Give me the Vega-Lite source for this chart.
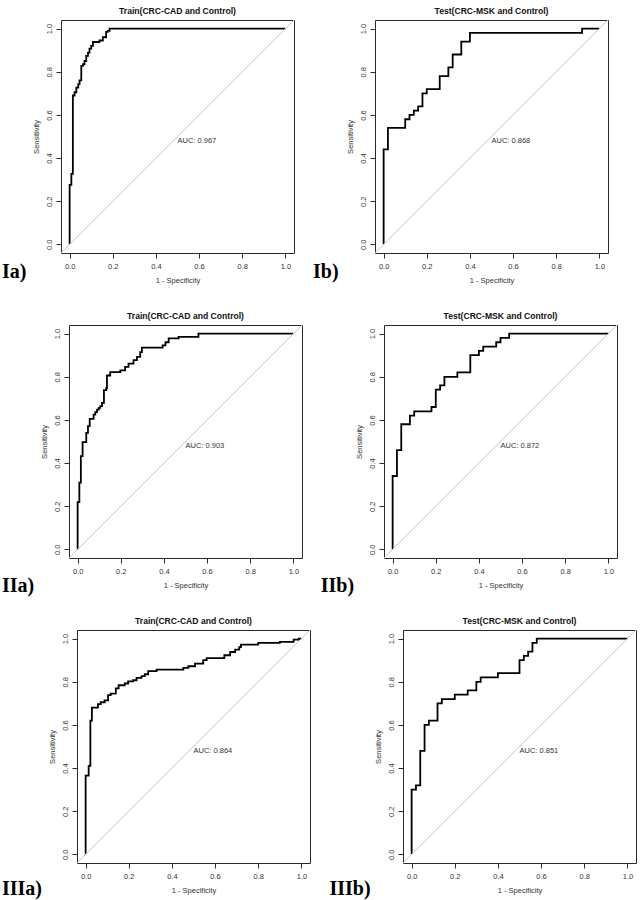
{
  "$schema": "https://vega.github.io/schema/vega-lite/v6.json",
  "background": "white",
  "padding": {"left": 0, "top": 6, "right": 0, "bottom": 0},
  "config": {
    "view": {"stroke": "#2a2a2a", "strokeWidth": 1},
    "axis": {
      "domain": false, "grid": false, "tickColor": "#2a2a2a", "tickSize": 5,
      "labelFont": "Liberation Sans", "labelFontSize": 7.5, "labelColor": "#333",
      "titleFont": "Liberation Sans", "titleFontSize": 7.5, "titleFontWeight": "normal", "titleColor": "#333",
      "labelFlush": false, "labelOverlap": false
    },
    "axisY": {"labelAngle": -90, "labelPadding": 3, "titlePadding": 5},
    "axisX": {"labelPadding": 4, "titlePadding": 6.5},
    "title": {"font": "Liberation Sans", "fontSize": 8.6, "fontWeight": "bold", "color": "#111", "frame": "group", "offset": 4},
    "text": {"font": "Liberation Sans"}
  },
  "data": {"values": [
    {"panel": "Ia", "fpr": 0, "tpr": 0}, {"panel": "Ia", "fpr": 0, "tpr": 0.276}, {"panel": "Ia", "fpr": 0.008, "tpr": 0.276}, {"panel": "Ia", "fpr": 0.008, "tpr": 0.327}, {"panel": "Ia", "fpr": 0.015, "tpr": 0.327}, {"panel": "Ia", "fpr": 0.015, "tpr": 0.69}, {"panel": "Ia", "fpr": 0.023, "tpr": 0.69}, {"panel": "Ia", "fpr": 0.023, "tpr": 0.705}, {"panel": "Ia", "fpr": 0.031, "tpr": 0.705}, {"panel": "Ia", "fpr": 0.031, "tpr": 0.727}, {"panel": "Ia", "fpr": 0.04, "tpr": 0.727}, {"panel": "Ia", "fpr": 0.04, "tpr": 0.743}, {"panel": "Ia", "fpr": 0.046, "tpr": 0.743}, {"panel": "Ia", "fpr": 0.046, "tpr": 0.76}, {"panel": "Ia", "fpr": 0.054, "tpr": 0.76}, {"panel": "Ia", "fpr": 0.054, "tpr": 0.827}, {"panel": "Ia", "fpr": 0.062, "tpr": 0.827}, {"panel": "Ia", "fpr": 0.062, "tpr": 0.835}, {"panel": "Ia", "fpr": 0.069, "tpr": 0.835}, {"panel": "Ia", "fpr": 0.069, "tpr": 0.85}, {"panel": "Ia", "fpr": 0.077, "tpr": 0.85}, {"panel": "Ia", "fpr": 0.077, "tpr": 0.874}, {"panel": "Ia", "fpr": 0.085, "tpr": 0.874}, {"panel": "Ia", "fpr": 0.085, "tpr": 0.889}, {"panel": "Ia", "fpr": 0.092, "tpr": 0.889}, {"panel": "Ia", "fpr": 0.092, "tpr": 0.907}, {"panel": "Ia", "fpr": 0.1, "tpr": 0.907}, {"panel": "Ia", "fpr": 0.1, "tpr": 0.92}, {"panel": "Ia", "fpr": 0.108, "tpr": 0.92}, {"panel": "Ia", "fpr": 0.108, "tpr": 0.938}, {"panel": "Ia", "fpr": 0.138, "tpr": 0.938}, {"panel": "Ia", "fpr": 0.138, "tpr": 0.945}, {"panel": "Ia", "fpr": 0.154, "tpr": 0.945}, {"panel": "Ia", "fpr": 0.154, "tpr": 0.96}, {"panel": "Ia", "fpr": 0.169, "tpr": 0.96}, {"panel": "Ia", "fpr": 0.169, "tpr": 0.985}, {"panel": "Ia", "fpr": 0.177, "tpr": 0.985}, {"panel": "Ia", "fpr": 0.177, "tpr": 0.99}, {"panel": "Ia", "fpr": 0.185, "tpr": 0.99}, {"panel": "Ia", "fpr": 0.185, "tpr": 1}, {"panel": "Ia", "fpr": 1, "tpr": 1},

    {"panel": "Ib", "fpr": 0, "tpr": 0}, {"panel": "Ib", "fpr": 0, "tpr": 0.44}, {"panel": "Ib", "fpr": 0.02, "tpr": 0.44}, {"panel": "Ib", "fpr": 0.02, "tpr": 0.54}, {"panel": "Ib", "fpr": 0.1, "tpr": 0.54}, {"panel": "Ib", "fpr": 0.1, "tpr": 0.58}, {"panel": "Ib", "fpr": 0.12, "tpr": 0.58}, {"panel": "Ib", "fpr": 0.12, "tpr": 0.6}, {"panel": "Ib", "fpr": 0.14, "tpr": 0.6}, {"panel": "Ib", "fpr": 0.14, "tpr": 0.62}, {"panel": "Ib", "fpr": 0.16, "tpr": 0.62}, {"panel": "Ib", "fpr": 0.16, "tpr": 0.64}, {"panel": "Ib", "fpr": 0.18, "tpr": 0.64}, {"panel": "Ib", "fpr": 0.18, "tpr": 0.7}, {"panel": "Ib", "fpr": 0.2, "tpr": 0.7}, {"panel": "Ib", "fpr": 0.2, "tpr": 0.72}, {"panel": "Ib", "fpr": 0.26, "tpr": 0.72}, {"panel": "Ib", "fpr": 0.26, "tpr": 0.78}, {"panel": "Ib", "fpr": 0.3, "tpr": 0.78}, {"panel": "Ib", "fpr": 0.3, "tpr": 0.82}, {"panel": "Ib", "fpr": 0.32, "tpr": 0.82}, {"panel": "Ib", "fpr": 0.32, "tpr": 0.88}, {"panel": "Ib", "fpr": 0.36, "tpr": 0.88}, {"panel": "Ib", "fpr": 0.36, "tpr": 0.94}, {"panel": "Ib", "fpr": 0.4, "tpr": 0.94}, {"panel": "Ib", "fpr": 0.4, "tpr": 0.98}, {"panel": "Ib", "fpr": 0.92, "tpr": 0.98}, {"panel": "Ib", "fpr": 0.92, "tpr": 1}, {"panel": "Ib", "fpr": 1, "tpr": 1},

    {"panel": "IIa", "fpr": 0, "tpr": 0}, {"panel": "IIa", "fpr": 0, "tpr": 0.219}, {"panel": "IIa", "fpr": 0.008, "tpr": 0.219}, {"panel": "IIa", "fpr": 0.008, "tpr": 0.309}, {"panel": "IIa", "fpr": 0.015, "tpr": 0.309}, {"panel": "IIa", "fpr": 0.015, "tpr": 0.432}, {"panel": "IIa", "fpr": 0.023, "tpr": 0.432}, {"panel": "IIa", "fpr": 0.023, "tpr": 0.497}, {"panel": "IIa", "fpr": 0.04, "tpr": 0.497}, {"panel": "IIa", "fpr": 0.04, "tpr": 0.54}, {"panel": "IIa", "fpr": 0.048, "tpr": 0.54}, {"panel": "IIa", "fpr": 0.048, "tpr": 0.571}, {"panel": "IIa", "fpr": 0.056, "tpr": 0.571}, {"panel": "IIa", "fpr": 0.056, "tpr": 0.605}, {"panel": "IIa", "fpr": 0.074, "tpr": 0.605}, {"panel": "IIa", "fpr": 0.074, "tpr": 0.625}, {"panel": "IIa", "fpr": 0.082, "tpr": 0.625}, {"panel": "IIa", "fpr": 0.082, "tpr": 0.636}, {"panel": "IIa", "fpr": 0.09, "tpr": 0.636}, {"panel": "IIa", "fpr": 0.09, "tpr": 0.648}, {"panel": "IIa", "fpr": 0.098, "tpr": 0.648}, {"panel": "IIa", "fpr": 0.098, "tpr": 0.656}, {"panel": "IIa", "fpr": 0.105, "tpr": 0.656}, {"panel": "IIa", "fpr": 0.105, "tpr": 0.664}, {"panel": "IIa", "fpr": 0.113, "tpr": 0.664}, {"panel": "IIa", "fpr": 0.113, "tpr": 0.679}, {"panel": "IIa", "fpr": 0.122, "tpr": 0.679}, {"panel": "IIa", "fpr": 0.122, "tpr": 0.738}, {"panel": "IIa", "fpr": 0.133, "tpr": 0.738}, {"panel": "IIa", "fpr": 0.133, "tpr": 0.748}, {"panel": "IIa", "fpr": 0.136, "tpr": 0.748}, {"panel": "IIa", "fpr": 0.136, "tpr": 0.806}, {"panel": "IIa", "fpr": 0.151, "tpr": 0.806}, {"panel": "IIa", "fpr": 0.151, "tpr": 0.822}, {"panel": "IIa", "fpr": 0.198, "tpr": 0.822}, {"panel": "IIa", "fpr": 0.198, "tpr": 0.83}, {"panel": "IIa", "fpr": 0.22, "tpr": 0.83}, {"panel": "IIa", "fpr": 0.22, "tpr": 0.846}, {"panel": "IIa", "fpr": 0.236, "tpr": 0.846}, {"panel": "IIa", "fpr": 0.236, "tpr": 0.861}, {"panel": "IIa", "fpr": 0.259, "tpr": 0.861}, {"panel": "IIa", "fpr": 0.259, "tpr": 0.877}, {"panel": "IIa", "fpr": 0.275, "tpr": 0.877}, {"panel": "IIa", "fpr": 0.275, "tpr": 0.892}, {"panel": "IIa", "fpr": 0.29, "tpr": 0.892}, {"panel": "IIa", "fpr": 0.29, "tpr": 0.914}, {"panel": "IIa", "fpr": 0.298, "tpr": 0.914}, {"panel": "IIa", "fpr": 0.298, "tpr": 0.935}, {"panel": "IIa", "fpr": 0.394, "tpr": 0.935}, {"panel": "IIa", "fpr": 0.394, "tpr": 0.946}, {"panel": "IIa", "fpr": 0.407, "tpr": 0.946}, {"panel": "IIa", "fpr": 0.407, "tpr": 0.96}, {"panel": "IIa", "fpr": 0.422, "tpr": 0.96}, {"panel": "IIa", "fpr": 0.422, "tpr": 0.978}, {"panel": "IIa", "fpr": 0.468, "tpr": 0.978}, {"panel": "IIa", "fpr": 0.468, "tpr": 0.985}, {"panel": "IIa", "fpr": 0.56, "tpr": 0.985}, {"panel": "IIa", "fpr": 0.56, "tpr": 1}, {"panel": "IIa", "fpr": 1, "tpr": 1},

    {"panel": "IIb", "fpr": 0, "tpr": 0}, {"panel": "IIb", "fpr": 0, "tpr": 0.34}, {"panel": "IIb", "fpr": 0.02, "tpr": 0.34}, {"panel": "IIb", "fpr": 0.02, "tpr": 0.46}, {"panel": "IIb", "fpr": 0.04, "tpr": 0.46}, {"panel": "IIb", "fpr": 0.04, "tpr": 0.58}, {"panel": "IIb", "fpr": 0.08, "tpr": 0.58}, {"panel": "IIb", "fpr": 0.08, "tpr": 0.62}, {"panel": "IIb", "fpr": 0.1, "tpr": 0.62}, {"panel": "IIb", "fpr": 0.1, "tpr": 0.64}, {"panel": "IIb", "fpr": 0.18, "tpr": 0.64}, {"panel": "IIb", "fpr": 0.18, "tpr": 0.66}, {"panel": "IIb", "fpr": 0.2, "tpr": 0.66}, {"panel": "IIb", "fpr": 0.2, "tpr": 0.74}, {"panel": "IIb", "fpr": 0.22, "tpr": 0.74}, {"panel": "IIb", "fpr": 0.22, "tpr": 0.76}, {"panel": "IIb", "fpr": 0.24, "tpr": 0.76}, {"panel": "IIb", "fpr": 0.24, "tpr": 0.8}, {"panel": "IIb", "fpr": 0.3, "tpr": 0.8}, {"panel": "IIb", "fpr": 0.3, "tpr": 0.82}, {"panel": "IIb", "fpr": 0.36, "tpr": 0.82}, {"panel": "IIb", "fpr": 0.36, "tpr": 0.9}, {"panel": "IIb", "fpr": 0.4, "tpr": 0.9}, {"panel": "IIb", "fpr": 0.4, "tpr": 0.92}, {"panel": "IIb", "fpr": 0.42, "tpr": 0.92}, {"panel": "IIb", "fpr": 0.42, "tpr": 0.94}, {"panel": "IIb", "fpr": 0.48, "tpr": 0.94}, {"panel": "IIb", "fpr": 0.48, "tpr": 0.96}, {"panel": "IIb", "fpr": 0.5, "tpr": 0.96}, {"panel": "IIb", "fpr": 0.5, "tpr": 0.98}, {"panel": "IIb", "fpr": 0.54, "tpr": 0.98}, {"panel": "IIb", "fpr": 0.54, "tpr": 1}, {"panel": "IIb", "fpr": 1, "tpr": 1},

    {"panel": "IIIa", "fpr": 0, "tpr": 0}, {"panel": "IIIa", "fpr": 0, "tpr": 0.365}, {"panel": "IIIa", "fpr": 0.014, "tpr": 0.365}, {"panel": "IIIa", "fpr": 0.014, "tpr": 0.41}, {"panel": "IIIa", "fpr": 0.022, "tpr": 0.41}, {"panel": "IIIa", "fpr": 0.022, "tpr": 0.62}, {"panel": "IIIa", "fpr": 0.029, "tpr": 0.62}, {"panel": "IIIa", "fpr": 0.029, "tpr": 0.68}, {"panel": "IIIa", "fpr": 0.057, "tpr": 0.68}, {"panel": "IIIa", "fpr": 0.057, "tpr": 0.696}, {"panel": "IIIa", "fpr": 0.07, "tpr": 0.696}, {"panel": "IIIa", "fpr": 0.07, "tpr": 0.705}, {"panel": "IIIa", "fpr": 0.088, "tpr": 0.705}, {"panel": "IIIa", "fpr": 0.088, "tpr": 0.714}, {"panel": "IIIa", "fpr": 0.104, "tpr": 0.714}, {"panel": "IIIa", "fpr": 0.104, "tpr": 0.738}, {"panel": "IIIa", "fpr": 0.116, "tpr": 0.738}, {"panel": "IIIa", "fpr": 0.116, "tpr": 0.745}, {"panel": "IIIa", "fpr": 0.14, "tpr": 0.745}, {"panel": "IIIa", "fpr": 0.14, "tpr": 0.769}, {"panel": "IIIa", "fpr": 0.153, "tpr": 0.769}, {"panel": "IIIa", "fpr": 0.153, "tpr": 0.784}, {"panel": "IIIa", "fpr": 0.181, "tpr": 0.784}, {"panel": "IIIa", "fpr": 0.181, "tpr": 0.792}, {"panel": "IIIa", "fpr": 0.197, "tpr": 0.792}, {"panel": "IIIa", "fpr": 0.197, "tpr": 0.802}, {"panel": "IIIa", "fpr": 0.22, "tpr": 0.802}, {"panel": "IIIa", "fpr": 0.22, "tpr": 0.807}, {"panel": "IIIa", "fpr": 0.236, "tpr": 0.807}, {"panel": "IIIa", "fpr": 0.236, "tpr": 0.818}, {"panel": "IIIa", "fpr": 0.259, "tpr": 0.818}, {"panel": "IIIa", "fpr": 0.259, "tpr": 0.826}, {"panel": "IIIa", "fpr": 0.274, "tpr": 0.826}, {"panel": "IIIa", "fpr": 0.274, "tpr": 0.835}, {"panel": "IIIa", "fpr": 0.29, "tpr": 0.835}, {"panel": "IIIa", "fpr": 0.29, "tpr": 0.849}, {"panel": "IIIa", "fpr": 0.329, "tpr": 0.849}, {"panel": "IIIa", "fpr": 0.329, "tpr": 0.856}, {"panel": "IIIa", "fpr": 0.453, "tpr": 0.856}, {"panel": "IIIa", "fpr": 0.453, "tpr": 0.864}, {"panel": "IIIa", "fpr": 0.476, "tpr": 0.864}, {"panel": "IIIa", "fpr": 0.476, "tpr": 0.872}, {"panel": "IIIa", "fpr": 0.507, "tpr": 0.872}, {"panel": "IIIa", "fpr": 0.507, "tpr": 0.884}, {"panel": "IIIa", "fpr": 0.545, "tpr": 0.884}, {"panel": "IIIa", "fpr": 0.545, "tpr": 0.9}, {"panel": "IIIa", "fpr": 0.561, "tpr": 0.9}, {"panel": "IIIa", "fpr": 0.561, "tpr": 0.91}, {"panel": "IIIa", "fpr": 0.643, "tpr": 0.91}, {"panel": "IIIa", "fpr": 0.643, "tpr": 0.923}, {"panel": "IIIa", "fpr": 0.67, "tpr": 0.923}, {"panel": "IIIa", "fpr": 0.67, "tpr": 0.938}, {"panel": "IIIa", "fpr": 0.693, "tpr": 0.938}, {"panel": "IIIa", "fpr": 0.693, "tpr": 0.949}, {"panel": "IIIa", "fpr": 0.712, "tpr": 0.949}, {"panel": "IIIa", "fpr": 0.712, "tpr": 0.961}, {"panel": "IIIa", "fpr": 0.72, "tpr": 0.961}, {"panel": "IIIa", "fpr": 0.72, "tpr": 0.972}, {"panel": "IIIa", "fpr": 0.8, "tpr": 0.972}, {"panel": "IIIa", "fpr": 0.8, "tpr": 0.98}, {"panel": "IIIa", "fpr": 0.9, "tpr": 0.98}, {"panel": "IIIa", "fpr": 0.9, "tpr": 0.985}, {"panel": "IIIa", "fpr": 0.964, "tpr": 0.985}, {"panel": "IIIa", "fpr": 0.964, "tpr": 0.995}, {"panel": "IIIa", "fpr": 0.988, "tpr": 0.995}, {"panel": "IIIa", "fpr": 0.988, "tpr": 1}, {"panel": "IIIa", "fpr": 1, "tpr": 1},

    {"panel": "IIIb", "fpr": 0, "tpr": 0}, {"panel": "IIIb", "fpr": 0, "tpr": 0.3}, {"panel": "IIIb", "fpr": 0.02, "tpr": 0.3}, {"panel": "IIIb", "fpr": 0.02, "tpr": 0.32}, {"panel": "IIIb", "fpr": 0.04, "tpr": 0.32}, {"panel": "IIIb", "fpr": 0.04, "tpr": 0.48}, {"panel": "IIIb", "fpr": 0.06, "tpr": 0.48}, {"panel": "IIIb", "fpr": 0.06, "tpr": 0.6}, {"panel": "IIIb", "fpr": 0.08, "tpr": 0.6}, {"panel": "IIIb", "fpr": 0.08, "tpr": 0.62}, {"panel": "IIIb", "fpr": 0.12, "tpr": 0.62}, {"panel": "IIIb", "fpr": 0.12, "tpr": 0.7}, {"panel": "IIIb", "fpr": 0.14, "tpr": 0.7}, {"panel": "IIIb", "fpr": 0.14, "tpr": 0.72}, {"panel": "IIIb", "fpr": 0.2, "tpr": 0.72}, {"panel": "IIIb", "fpr": 0.2, "tpr": 0.74}, {"panel": "IIIb", "fpr": 0.26, "tpr": 0.74}, {"panel": "IIIb", "fpr": 0.26, "tpr": 0.76}, {"panel": "IIIb", "fpr": 0.3, "tpr": 0.76}, {"panel": "IIIb", "fpr": 0.3, "tpr": 0.8}, {"panel": "IIIb", "fpr": 0.32, "tpr": 0.8}, {"panel": "IIIb", "fpr": 0.32, "tpr": 0.82}, {"panel": "IIIb", "fpr": 0.4, "tpr": 0.82}, {"panel": "IIIb", "fpr": 0.4, "tpr": 0.84}, {"panel": "IIIb", "fpr": 0.5, "tpr": 0.84}, {"panel": "IIIb", "fpr": 0.5, "tpr": 0.9}, {"panel": "IIIb", "fpr": 0.52, "tpr": 0.9}, {"panel": "IIIb", "fpr": 0.52, "tpr": 0.92}, {"panel": "IIIb", "fpr": 0.54, "tpr": 0.92}, {"panel": "IIIb", "fpr": 0.54, "tpr": 0.94}, {"panel": "IIIb", "fpr": 0.56, "tpr": 0.94}, {"panel": "IIIb", "fpr": 0.56, "tpr": 0.98}, {"panel": "IIIb", "fpr": 0.58, "tpr": 0.98}, {"panel": "IIIb", "fpr": 0.58, "tpr": 1}, {"panel": "IIIb", "fpr": 1, "tpr": 1}
  ]},
  "spacing": 19,
  "vconcat": [
    {"spacing": 27, "vconcat": [
      {"spacing": 0, "hconcat": [
        {"width": 1, "height": 1, "view": {"stroke": null}, "data": {"values": [{}]}, "mark": {"type": "text"}, "encoding": {"text": {"value": ""}}},
        {"spacing": 17, "hconcat": [
          {"width": 233, "height": 233, "title": "Train(CRC-CAD and Control)", "layer": [
            {"transform": [{"filter": "datum.panel === 'Ia'"}], "mark": {"type": "line", "color": "black", "strokeWidth": 1.8},
             "encoding": {"x": {"field": "fpr", "type": "quantitative", "scale": {"domain": [-0.04, 1.04], "nice": false, "zero": false}, "axis": {"title": "1 - Specificity", "values": [0, 0.2, 0.4, 0.6, 0.8, 1], "format": ".1f"}},
                          "y": {"field": "tpr", "type": "quantitative", "scale": {"domain": [-0.04, 1.04], "nice": false, "zero": false}, "axis": {"title": "Sensitivity", "values": [0, 0.2, 0.4, 0.6, 0.8, 1], "format": ".1f"}},
                          "order": {"value": null}}},
            {"data": {"values": [{}]}, "mark": {"type": "rule", "color": "#c8c8c8", "strokeWidth": 1}, "encoding": {"x": {"datum": -0.04}, "y": {"datum": -0.04}, "x2": {"datum": 1.04}, "y2": {"datum": 1.04}}},
            {"data": {"values": [{}]}, "mark": {"type": "text", "align": "left", "baseline": "top", "fontSize": 7.5, "color": "#333"}, "encoding": {"x": {"datum": 0.5}, "y": {"datum": 0.5}, "text": {"value": "AUC: 0.967"}}},
            {"data": {"values": [{}]}, "mark": {"type": "text", "align": "left", "baseline": "alphabetic", "font": "Liberation Serif", "fontWeight": "bold", "fontSize": 20, "color": "black"}, "encoding": {"x": {"datum": -0.3135}, "y": {"datum": -0.156}, "text": {"value": "Ia)"}}}
          ]},
          {"width": 233, "height": 233, "title": "Test(CRC-MSK and Control)", "layer": [
            {"transform": [{"filter": "datum.panel === 'Ib'"}], "mark": {"type": "line", "color": "black", "strokeWidth": 1.8},
             "encoding": {"x": {"field": "fpr", "type": "quantitative", "scale": {"domain": [-0.04, 1.04], "nice": false, "zero": false}, "axis": {"title": "1 - Specificity", "values": [0, 0.2, 0.4, 0.6, 0.8, 1], "format": ".1f"}},
                          "y": {"field": "tpr", "type": "quantitative", "scale": {"domain": [-0.04, 1.04], "nice": false, "zero": false}, "axis": {"title": "Sensitivity", "values": [0, 0.2, 0.4, 0.6, 0.8, 1], "format": ".1f"}},
                          "order": {"value": null}}},
            {"data": {"values": [{}]}, "mark": {"type": "rule", "color": "#c8c8c8", "strokeWidth": 1}, "encoding": {"x": {"datum": -0.04}, "y": {"datum": -0.04}, "x2": {"datum": 1.04}, "y2": {"datum": 1.04}}},
            {"data": {"values": [{}]}, "mark": {"type": "text", "align": "left", "baseline": "top", "fontSize": 7.5, "color": "#333"}, "encoding": {"x": {"datum": 0.5}, "y": {"datum": 0.5}, "text": {"value": "AUC: 0.868"}}},
            {"data": {"values": [{}]}, "mark": {"type": "text", "align": "left", "baseline": "alphabetic", "font": "Liberation Serif", "fontWeight": "bold", "fontSize": 20, "color": "black"}, "encoding": {"x": {"datum": -0.327}, "y": {"datum": -0.156}, "text": {"value": "Ib)"}}}
          ]}
        ]}
      ]},
      {"spacing": 0, "hconcat": [
        {"width": 1, "height": 1, "view": {"stroke": null}, "data": {"values": [{}]}, "mark": {"type": "text"}, "encoding": {"text": {"value": ""}}},
        {"spacing": 17, "hconcat": [
          {"width": 233, "height": 233, "title": "Train(CRC-CAD and Control)", "layer": [
            {"transform": [{"filter": "datum.panel === 'IIa'"}], "mark": {"type": "line", "color": "black", "strokeWidth": 1.8},
             "encoding": {"x": {"field": "fpr", "type": "quantitative", "scale": {"domain": [-0.04, 1.04], "nice": false, "zero": false}, "axis": {"title": "1 - Specificity", "values": [0, 0.2, 0.4, 0.6, 0.8, 1], "format": ".1f"}},
                          "y": {"field": "tpr", "type": "quantitative", "scale": {"domain": [-0.04, 1.04], "nice": false, "zero": false}, "axis": {"title": "Sensitivity", "values": [0, 0.2, 0.4, 0.6, 0.8, 1], "format": ".1f"}},
                          "order": {"value": null}}},
            {"data": {"values": [{}]}, "mark": {"type": "rule", "color": "#c8c8c8", "strokeWidth": 1}, "encoding": {"x": {"datum": -0.04}, "y": {"datum": -0.04}, "x2": {"datum": 1.04}, "y2": {"datum": 1.04}}},
            {"data": {"values": [{}]}, "mark": {"type": "text", "align": "left", "baseline": "top", "fontSize": 7.5, "color": "#333"}, "encoding": {"x": {"datum": 0.5}, "y": {"datum": 0.5}, "text": {"value": "AUC: 0.903"}}},
            {"data": {"values": [{}]}, "mark": {"type": "text", "align": "left", "baseline": "alphabetic", "font": "Liberation Serif", "fontWeight": "bold", "fontSize": 20, "color": "black"}, "encoding": {"x": {"datum": -0.351}, "y": {"datum": -0.198}, "text": {"value": "IIa)"}}}
          ]},
          {"width": 233, "height": 233, "title": "Test(CRC-MSK and Control)", "layer": [
            {"transform": [{"filter": "datum.panel === 'IIb'"}], "mark": {"type": "line", "color": "black", "strokeWidth": 1.8},
             "encoding": {"x": {"field": "fpr", "type": "quantitative", "scale": {"domain": [-0.04, 1.04], "nice": false, "zero": false}, "axis": {"title": "1 - Specificity", "values": [0, 0.2, 0.4, 0.6, 0.8, 1], "format": ".1f"}},
                          "y": {"field": "tpr", "type": "quantitative", "scale": {"domain": [-0.04, 1.04], "nice": false, "zero": false}, "axis": {"title": "Sensitivity", "values": [0, 0.2, 0.4, 0.6, 0.8, 1], "format": ".1f"}},
                          "order": {"value": null}}},
            {"data": {"values": [{}]}, "mark": {"type": "rule", "color": "#c8c8c8", "strokeWidth": 1}, "encoding": {"x": {"datum": -0.04}, "y": {"datum": -0.04}, "x2": {"datum": 1.04}, "y2": {"datum": 1.04}}},
            {"data": {"values": [{}]}, "mark": {"type": "text", "align": "left", "baseline": "top", "fontSize": 7.5, "color": "#333"}, "encoding": {"x": {"datum": 0.5}, "y": {"datum": 0.5}, "text": {"value": "AUC: 0.872"}}},
            {"data": {"values": [{}]}, "mark": {"type": "text", "align": "left", "baseline": "alphabetic", "font": "Liberation Serif", "fontWeight": "bold", "fontSize": 20, "color": "black"}, "encoding": {"x": {"datum": -0.333}, "y": {"datum": -0.198}, "text": {"value": "IIb)"}}}
          ]}
        ]}
      ]}
    ]},
    {"spacing": 0, "hconcat": [
      {"width": 1, "height": 1, "view": {"stroke": null}, "data": {"values": [{}]}, "mark": {"type": "text"}, "encoding": {"text": {"value": ""}}},
      {"spacing": 17, "hconcat": [
        {"width": 233, "height": 233, "title": "Train(CRC-CAD and Control)", "layer": [
          {"transform": [{"filter": "datum.panel === 'IIIa'"}], "mark": {"type": "line", "color": "black", "strokeWidth": 1.8},
           "encoding": {"x": {"field": "fpr", "type": "quantitative", "scale": {"domain": [-0.04, 1.04], "nice": false, "zero": false}, "axis": {"title": "1 - Specificity", "values": [0, 0.2, 0.4, 0.6, 0.8, 1], "format": ".1f"}},
                        "y": {"field": "tpr", "type": "quantitative", "scale": {"domain": [-0.04, 1.04], "nice": false, "zero": false}, "axis": {"title": "Sensitivity", "values": [0, 0.2, 0.4, 0.6, 0.8, 1], "format": ".1f"}},
                        "order": {"value": null}}},
          {"data": {"values": [{}]}, "mark": {"type": "rule", "color": "#c8c8c8", "strokeWidth": 1}, "encoding": {"x": {"datum": -0.04}, "y": {"datum": -0.04}, "x2": {"datum": 1.04}, "y2": {"datum": 1.04}}},
          {"data": {"values": [{}]}, "mark": {"type": "text", "align": "left", "baseline": "top", "fontSize": 7.5, "color": "#333"}, "encoding": {"x": {"datum": 0.5}, "y": {"datum": 0.5}, "text": {"value": "AUC: 0.864"}}},
          {"data": {"values": [{}]}, "mark": {"type": "text", "align": "left", "baseline": "alphabetic", "font": "Liberation Serif", "fontWeight": "bold", "fontSize": 20, "color": "black"}, "encoding": {"x": {"datum": -0.388}, "y": {"datum": -0.188}, "text": {"value": "IIIa)"}}}
        ]},
        {"width": 233, "height": 233, "title": "Test(CRC-MSK and Control)", "layer": [
          {"transform": [{"filter": "datum.panel === 'IIIb'"}], "mark": {"type": "line", "color": "black", "strokeWidth": 1.8},
           "encoding": {"x": {"field": "fpr", "type": "quantitative", "scale": {"domain": [-0.04, 1.04], "nice": false, "zero": false}, "axis": {"title": "1 - Specificity", "values": [0, 0.2, 0.4, 0.6, 0.8, 1], "format": ".1f"}},
                        "y": {"field": "tpr", "type": "quantitative", "scale": {"domain": [-0.04, 1.04], "nice": false, "zero": false}, "axis": {"title": "Sensitivity", "values": [0, 0.2, 0.4, 0.6, 0.8, 1], "format": ".1f"}},
                        "order": {"value": null}}},
          {"data": {"values": [{}]}, "mark": {"type": "rule", "color": "#c8c8c8", "strokeWidth": 1}, "encoding": {"x": {"datum": -0.04}, "y": {"datum": -0.04}, "x2": {"datum": 1.04}, "y2": {"datum": 1.04}}},
          {"data": {"values": [{}]}, "mark": {"type": "text", "align": "left", "baseline": "top", "fontSize": 7.5, "color": "#333"}, "encoding": {"x": {"datum": 0.5}, "y": {"datum": 0.5}, "text": {"value": "AUC: 0.851"}}},
          {"data": {"values": [{}]}, "mark": {"type": "text", "align": "left", "baseline": "alphabetic", "font": "Liberation Serif", "fontWeight": "bold", "fontSize": 20, "color": "black"}, "encoding": {"x": {"datum": -0.381}, "y": {"datum": -0.188}, "text": {"value": "IIIb)"}}}
        ]}
      ]}
    ]}
  ]
}
